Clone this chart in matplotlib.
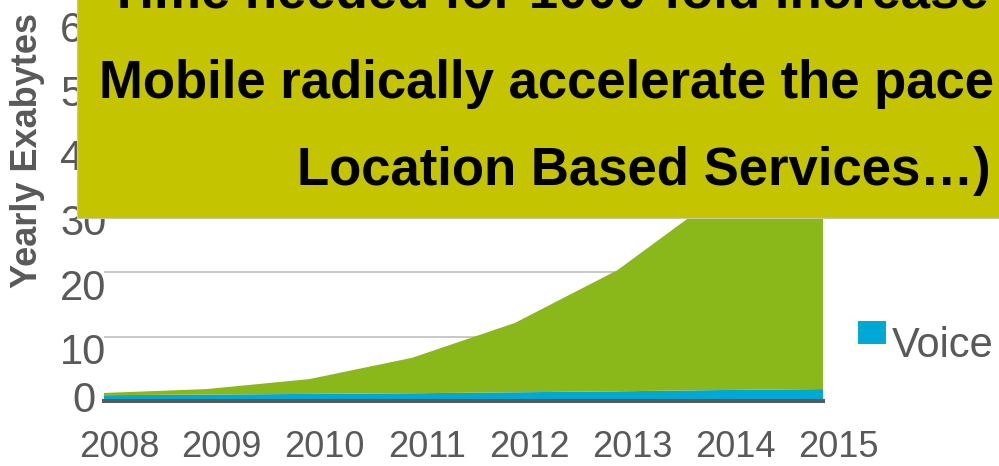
import numpy as np
import matplotlib
matplotlib.use("Agg")
import matplotlib.pyplot as plt
import matplotlib.transforms as mtransforms
from matplotlib.patches import Patch, Rectangle

plt.rcParams['font.family'] = ['Liberation Sans', 'DejaVu Sans']

# values (Exabytes per year)
years = [2008, 2009, 2010, 2011, 2012, 2013, 2014, 2015]
voice = [0.9, 1.0, 1.1, 1.2, 1.35, 1.5, 1.7, 1.85]
data = [0.35, 0.85, 2.3, 5.5, 10.75, 18.8, 30.3, 48.2]
yticks = [0, 10, 20, 30, 40, 50, 60]

title_lines = ["Time needed for 1000-fold increase",
               "Mobile radically accelerate the pace",
               "Location Based Services\u2026)"]

green = "#8ab81a"
blue = "#00a8d4"
grey = "#595959"
box_col = "#c4c400"

W, H = 999, 466
fig = plt.figure(figsize=(W / 100, H / 100), dpi=100)

def fx(px):
    return px / W

def fy(py):
    return 1 - py / H

# plot area: x 104..823 px, y=0 at 401 px, 64.5 px per 10
ax = fig.add_axes([fx(104), fy(401), fx(823 - 104), 6.0 * 64.5 / H])
ax.stackplot(years, voice, data, colors=[blue, green], lw=0)
ax.set_xlim(2008, 2015)
ax.set_ylim(0, 60)
ax.set_xticks(years)
ax.set_xticklabels([str(y) for y in years])
ax.set_yticks(yticks)
ax.set_yticklabels([str(v) for v in yticks])
ax.set_axisbelow(True)
ax.yaxis.grid(True, color="#bfbfbf", lw=1.2)
for s in ["top", "right", "left"]:
    ax.spines[s].set_visible(False)
ax.spines["bottom"].set_color(grey)
ax.spines["bottom"].set_linewidth(2.9)
ax.tick_params(axis="x", length=0, pad=21, labelsize=26, labelcolor=grey)
ax.tick_params(axis="y", length=0, pad=14.8, labelsize=30, labelcolor=grey)

# shift tick labels to where they sit in the picture
xoff = mtransforms.ScaledTranslation(15 / 100, 0, fig.dpi_scale_trans)
for lab in ax.get_xticklabels():
    lab.set_transform(lab.get_transform() + xoff)
for lab in ax.get_yticklabels():
    lab.set_horizontalalignment("center")
    dy = 4 if lab.get_text() == "0" else -12
    lab.set_transform(lab.get_transform() +
                      mtransforms.ScaledTranslation(0, dy / 100, fig.dpi_scale_trans))

fig.text(fx(28), fy(150), "Yearly Exabytes", rotation=90, ha="center", va="center",
         fontsize=26, fontweight="bold", color=grey)

leg = ax.legend(handles=[Patch(facecolor=blue, edgecolor="none", label="Voice")],
                loc="center left", bbox_to_anchor=(fx(858), fy(346)),
                bbox_transform=fig.transFigure, frameon=False, fontsize=30,
                handlelength=0.67, handleheight=0.46, handletextpad=0.14,
                borderpad=0, borderaxespad=0, labelcolor=grey)
h = leg.legend_handles[0]
h.set_y(h.get_y() + 7)

# overlay call-out box
box = Rectangle((fx(77), fy(218)), 1.0, 0.6, transform=fig.transFigure,
                facecolor=box_col, edgecolor="#c8c8b0", lw=0.8, zorder=2)
fig.patches.append(box)
fig.text(fx(108), fy(8), title_lines[0], ha="left", va="baseline",
         fontsize=38, fontweight="bold", color="black", zorder=3)
fig.text(fx(99), fy(98), title_lines[1], ha="left", va="baseline",
         fontsize=38, fontweight="bold", color="black", zorder=3)
fig.text(fx(991), fy(185), title_lines[2], ha="right", va="baseline",
         fontsize=38, fontweight="bold", color="black", zorder=3)

fig.savefig("out.png", dpi=100)
